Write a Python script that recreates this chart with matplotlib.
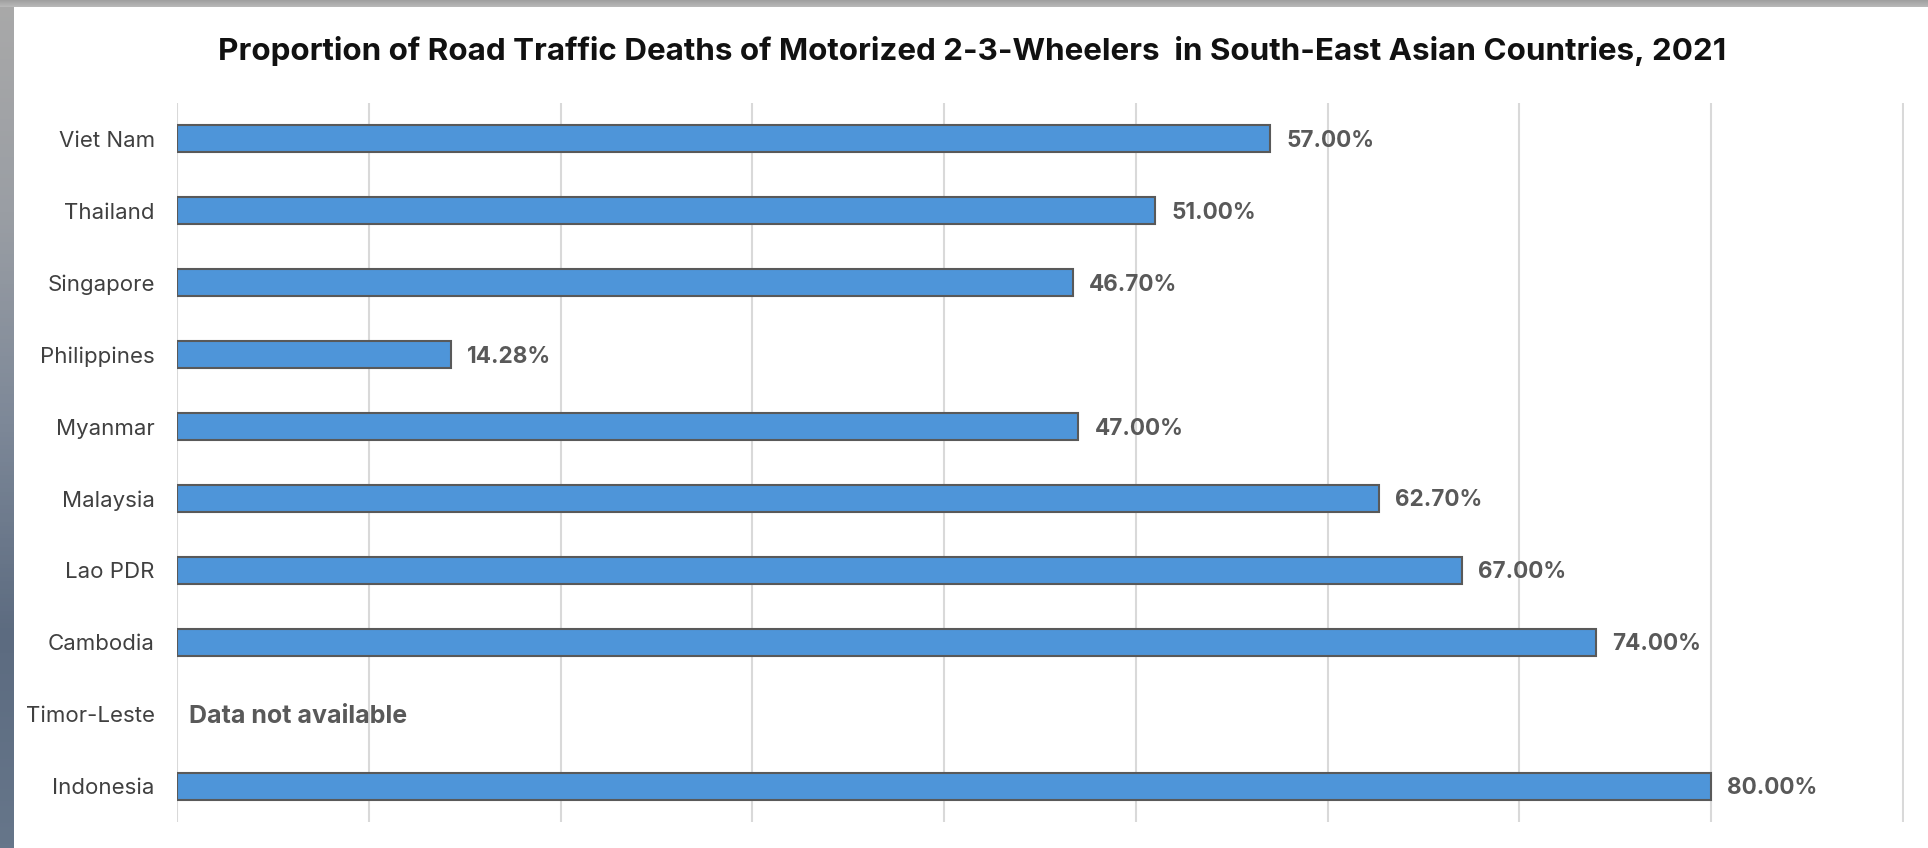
import numpy as np
import matplotlib.pyplot as plt
from matplotlib.colors import LinearSegmentedColormap

countries = ['Viet Nam', 'Thailand', 'Singapore', 'Philippines', 'Myanmar',
             'Malaysia', 'Lao PDR', 'Cambodia', 'Timor-Leste', 'Indonesia']
shares = [57.00, 51.00, 46.70, 14.28, 47.00, 62.70, 67.00, 74.00, np.nan, 80.00]
grid_ticks = [0, 10, 20, 30, 40, 50, 60, 70, 80, 90]
title = 'Proportion of Road Traffic Deaths of Motorized 2-3-Wheelers  in South-East Asian Countries, 2021'
missing_text = 'Data not available'

plt.rcParams['font.family'] = ['Inter', 'DejaVu Sans']

fig = plt.figure(figsize=(19.28, 8.48), dpi=100)
fig.patch.set_facecolor('white')

# screenshot frame: gray strip on the left and on top
edge = fig.add_axes([0, 0, 14 / 1928, 1])
cmap = LinearSegmentedColormap.from_list('edge', ['#a9a9a9', '#9a9ea4', '#7d8898', '#5c6b80', '#66768a'])
edge.imshow(np.linspace(0, 1, 200).reshape(-1, 1), aspect='auto', cmap=cmap)
edge.set_axis_off()
top = fig.add_axes([0, 1 - 7 / 848, 1, 7 / 848])
top.imshow(np.linspace(0, 1, 10).reshape(-1, 1), aspect='auto',
           cmap=LinearSegmentedColormap.from_list('top', ['#a0a0a0', '#b8b8b8']))
top.set_axis_off()

ax = fig.add_axes([177 / 1928, 1 - 822 / 848, (1904 - 177) / 1928, (822 - 103) / 848])

y = np.arange(len(countries))
has = [not np.isnan(v) for v in shares]
ax.barh(y[has], np.array(shares)[has], height=0.375, color='#4e95d9',
        edgecolor='#595959', linewidth=1.5, zorder=3)

for yi, v in zip(y, shares):
    if np.isnan(v):
        ax.annotate(missing_text, (0, yi), xytext=(12, -2), textcoords='offset pixels',
                    va='center', ha='left', fontsize=18,
                    fontweight='bold', color='#595959', zorder=4)
    else:
        ax.annotate(f'{v:.2f}%', (v, yi), xytext=(16, -2), textcoords='offset pixels',
                    va='center', ha='left', fontsize=16.2, fontweight='bold', color='#595959', zorder=4)

ax.set_xlim(0, 90.05)
ax.set_ylim(len(countries) - 0.5, -0.5)
ax.set_xticks(grid_ticks)
ax.set_xticklabels([])
ax.tick_params(axis='x', length=0)
ax.tick_params(axis='y', length=0, pad=16, labelsize=16, labelcolor='#404040')
ax.set_yticks(y)
ax.set_yticklabels(countries)
ax.grid(axis='x', color='#d9d9d9', linewidth=1.5, zorder=0)
for s in ax.spines.values():
    s.set_visible(False)

fig.text(972 / 1928, 1 - 51.5 / 848, title, ha='center', va='center',
         fontsize=22.6, fontweight='bold', color='#111111')

fig.savefig('out.png', dpi=100, facecolor='white')
